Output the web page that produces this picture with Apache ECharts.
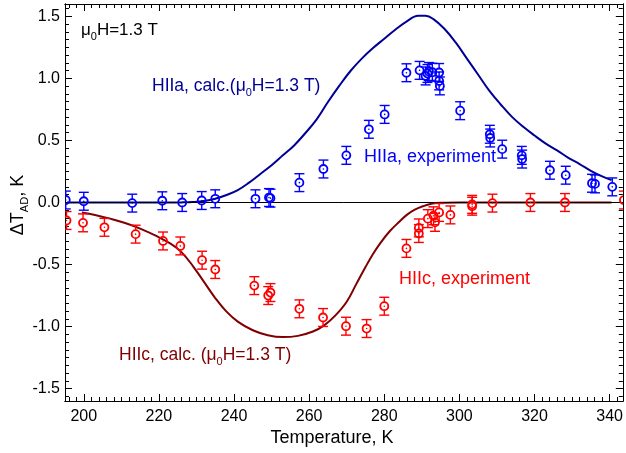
<!DOCTYPE html>
<html>
<head>
<meta charset="utf-8">
<script src="https://cdn.jsdelivr.net/npm/echarts@6/dist/echarts.min.js"></script>
<style>
html, body { margin: 0; padding: 0; background: #fff; }
#main { width: 626px; height: 453px; }
</style>
</head>
<body>
<div id="main"></div>
<script>
// HIIa, experiment (T in K, dT in K)
var tempA = [195.2, 200.0, 212.9, 220.9, 226.2, 231.4, 235.0, 245.7, 249.3, 249.7, 257.4, 263.8, 269.9,
  275.9, 280.1, 285.9, 289.4, 291.0, 291.5, 291.9, 292.8, 294.6, 294.6, 294.8, 300.2, 308.1, 308.2,
  311.4, 316.6, 316.7, 324.1, 328.3, 335.3, 336.1, 340.7];
var dTA = [0.02, 0.01, -0.005, 0.014, 0.0, 0.016, 0.03, 0.03, 0.04, 0.035, 0.16, 0.27, 0.38,
  0.59, 0.71, 1.046, 1.065, 1.02, 1.04, 1.056, 1.05, 1.048, 0.98, 0.94, 0.74, 0.55, 0.52,
  0.43, 0.38, 0.35, 0.26, 0.22, 0.155, 0.15, 0.126];

// HIIc, experiment
var tempC = [195.4, 199.8, 205.5, 213.8, 221.1, 225.7, 231.5, 235.0, 245.4, 249.1, 249.7, 257.4, 263.7,
  269.8, 275.3, 280.0, 285.9, 289.2, 289.2, 291.6, 293.1, 293.5, 294.6, 297.6, 303.4, 303.4, 308.8,
  318.9, 328.1, 343.8];
var dTC = [-0.145, -0.164, -0.2, -0.255, -0.31, -0.35, -0.465, -0.54, -0.67, -0.75, -0.726, -0.857, -0.927,
  -0.997, -1.016, -0.836, -0.37, -0.25, -0.205, -0.13, -0.107, -0.16, -0.08, -0.1, -0.03, -0.015, -0.005,
  0.0, 0.0, 0.02];
var errBar = 0.072;

// HIIa, calc. (mu0H = 1.3 T)
var calcTempA = [195.5, 205, 215, 222, 226, 229, 232, 235, 238, 241, 244, 247, 250, 253, 256, 259, 262, 265,
  268, 271, 274, 277, 280, 283, 286, 289, 291, 293, 296, 299, 302, 305, 308, 311, 314, 317, 320, 323, 326,
  329, 332, 335, 338, 340.5];
var calcA = [0, 0, 0, 0, 0.001, 0.004, 0.012, 0.03, 0.06, 0.1, 0.16, 0.23, 0.3, 0.38, 0.46, 0.56, 0.67, 0.81,
  0.94, 1.06, 1.16, 1.245, 1.32, 1.395, 1.46, 1.505, 1.505, 1.48, 1.4, 1.29, 1.16, 1.03, 0.9, 0.79, 0.69, 0.61,
  0.54, 0.475, 0.42, 0.36, 0.31, 0.255, 0.21, 0.18];

// HIIc, calc. (mu0H = 1.3 T)
var calcTempC = [199.5, 203, 207, 211, 215, 219, 223, 226, 229, 232, 235, 238, 241, 245, 249, 253, 257, 261,
  264, 267, 270, 272.5, 275, 277, 279, 281.5, 284, 286, 288, 290.3, 292.5, 295, 300, 310, 325, 340.5];
var calcC = [-0.08, -0.1, -0.13, -0.165, -0.21, -0.265, -0.33, -0.4, -0.51, -0.64, -0.77, -0.88, -0.96, -1.03,
  -1.07, -1.085, -1.075, -1.04, -0.99, -0.91, -0.8, -0.66, -0.52, -0.415, -0.325, -0.23, -0.155, -0.1, -0.06,
  -0.03, -0.01, -0.002, 0, 0, 0, 0];

// axes
var xLabels = [200, 220, 240, 260, 280, 300, 320, 340];
var yLabels = [-1.5, -1.0, -0.5, 0.0, 0.5, 1.0, 1.5];
var xMin = 195, xMax = 343.5, yMin = -1.6, yMax = 1.6;

var xMinor = [];
for (var t = 196; t <= 342; t += 2) xMinor.push(t);
var yMinor = [];
for (var k = -25; k <= 25; k++) yMinor.push(k * 0.0625);

var font = '"Liberation Sans", Arial, sans-serif';

function xAxis(pos, ticks, len, withLabels) {
  return {
    type: 'value', min: xMin, max: xMax, position: pos,
    axisLine: { show: true, onZero: false, lineStyle: { color: '#000', width: 1 } },
    axisTick: { show: true, inside: true, length: len, customValues: ticks, lineStyle: { color: '#000', width: 1 } },
    axisLabel: { show: withLabels, customValues: ticks, margin: 8, color: '#000', fontSize: 16, fontFamily: font },
    splitLine: { show: false }
  };
}
function yAxis(pos, ticks, len, withLabels) {
  return {
    type: 'value', min: yMin, max: yMax, position: pos,
    axisLine: { show: true, onZero: false, lineStyle: { color: '#000', width: 1 } },
    axisTick: { show: true, inside: true, length: len, customValues: ticks, lineStyle: { color: '#000', width: 1 } },
    axisLabel: { show: withLabels, customValues: ticks, margin: 5, color: '#000', fontSize: 16, fontFamily: font,
      formatter: function (v) { return v.toFixed(1); } },
    splitLine: { show: false }
  };
}

function expSeries(name, xs, ys, color) {
  return {
    type: 'custom', name: name, clip: true, z: 5,
    data: xs.map(function (x, i) { return [x, ys[i], errBar]; }),
    renderItem: function (params, api) {
      var p = api.coord([api.value(0), api.value(1)]);
      var top = api.coord([api.value(0), api.value(1) + api.value(2)])[1];
      var bot = api.coord([api.value(0), api.value(1) - api.value(2)])[1];
      var r = 4, cw = 5;
      var st = { stroke: color, lineWidth: 1.4 };
      return {
        type: 'group', children: [
          { type: 'line', shape: { x1: p[0], y1: top, x2: p[0], y2: p[1] - r }, style: st },
          { type: 'line', shape: { x1: p[0], y1: p[1] + r, x2: p[0], y2: bot }, style: st },
          { type: 'line', shape: { x1: p[0] - cw, y1: top, x2: p[0] + cw, y2: top }, style: st },
          { type: 'line', shape: { x1: p[0] - cw, y1: bot, x2: p[0] + cw, y2: bot }, style: st },
          { type: 'circle', shape: { cx: p[0], cy: p[1], r: r }, style: { fill: 'none', stroke: color, lineWidth: 1.8 } },
          { type: 'circle', shape: { cx: p[0], cy: p[1], r: 0.8 }, style: { fill: color } }
        ]
      };
    }
  };
}

function calcSeries(name, xs, ys, color) {
  return {
    type: 'line', name: name, showSymbol: false, smooth: 0.4, z: 4,
    data: xs.map(function (x, i) { return [x, ys[i]]; }),
    lineStyle: { color: color, width: 2 }
  };
}

var sub = { fontSize: 11, padding: [14, 0, 0, 0] };
function note(x, y, text, color, size, rot) {
  return {
    type: 'text', x: x, y: y, rotation: rot || 0, z: 10,
    style: {
      text: text, fill: color, fontSize: size, fontFamily: font,
      align: rot ? 'center' : 'left', verticalAlign: 'middle',
      rich: { s: sub }
    }
  };
}

var chart = echarts.init(document.getElementById('main'));
chart.setOption({
  animation: false,
  backgroundColor: '#fff',
  grid: { left: 65, top: 4, width: 558, height: 397 },
  xAxis: [
    xAxis('bottom', xLabels, 7, true),
    xAxis('bottom', xMinor, 4, false),
    xAxis('top', xLabels, 7, false),
    xAxis('top', xMinor, 4, false)
  ],
  yAxis: [
    yAxis('left', yLabels, 7, true),
    yAxis('left', yMinor, 4, false),
    yAxis('right', yLabels, 7, false),
    yAxis('right', yMinor, 4, false)
  ],
  series: [
    {
      type: 'line', data: [], z: 2,
      markLine: {
        silent: true, symbol: 'none', label: { show: false },
        lineStyle: { color: '#000', width: 1, type: 'solid' },
        data: [{ yAxis: 0 }]
      }
    },
    calcSeries('HIIa, calc.', calcTempA, calcA, '#000096'),
    calcSeries('HIIc, calc.', calcTempC, calcC, '#7f0000'),
    expSeries('HIIa, experiment', tempA, dTA, '#0000ff'),
    expSeries('HIIc, experiment', tempC, dTC, '#ff0000')
  ],
  graphic: [
    note(81, 30, '\u03bc{s|0}H=1.3 T', '#000', 17),
    note(152, 86, 'HIIa, calc.(\u03bc{s|0}H=1.3 T)', '#000096', 17.5),
    note(364, 157, 'HIIa, experiment', '#0000ff', 18),
    note(399, 279, 'HIIc, experiment', '#ff0000', 18),
    note(119, 355, 'HIIc, calc. (\u03bc{s|0}H=1.3 T)', '#7f0000', 17.5),
    note(18, 205, '\u0394T{s|AD}, K', '#000', 18, Math.PI / 2),
    note(332, 438, 'Temperature, K', '#000', 18, 0.0000001)
  ]
});
</script>
</body>
</html>
